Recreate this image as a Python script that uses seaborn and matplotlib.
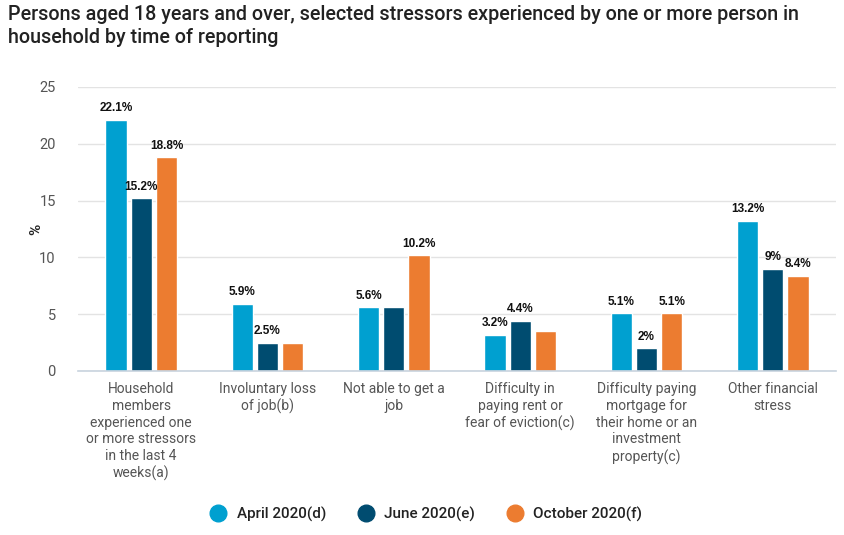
import matplotlib
matplotlib.use("Agg")
import matplotlib.pyplot as plt
from matplotlib.lines import Line2D
import seaborn as sns
import pandas as pd

categories = [
    "Household\nmembers\nexperienced one\nor more stressors\nin the last 4\nweeks(a)",
    "Involuntary loss\nof job(b)",
    "Not able to get a\njob",
    "Difficulty in\npaying rent or\nfear of eviction(c)",
    "Difficulty paying\nmortgage for\ntheir home or an\ninvestment\nproperty(c)",
    "Other financial\nstress",
]
series_names = ["April 2020(d)", "June 2020(e)", "October 2020(f)"]
april = [22.1, 5.9, 5.6, 3.2, 5.1, 13.2]
june = [15.2, 2.5, 5.6, 4.4, 2.0, 9.0]
october = [18.8, 2.5, 10.2, 3.5, 5.1, 8.4]
# which value labels are shown (overlapping ones are hidden in the reference)
show_april = [True, True, True, True, True, True]
show_june = [True, True, False, True, True, True]
show_october = [True, False, True, False, True, True]
colors = ["#00A0D0", "#004C70", "#EC7C30"]
yticks = [0, 5, 10, 15, 20, 25]

rows = []
for name, vals in zip(series_names, [april, june, october]):
    for c, v in zip(categories, vals):
        rows.append({"category": c, "series": name, "value": v})
df = pd.DataFrame(rows)

sns.set_theme(style="white")
plt.rcParams["font.family"] = ["Roboto", "DejaVu Sans"]

fig = plt.figure(figsize=(8.45, 5.35), dpi=100)
ax = fig.add_axes([78 / 845, 1 - 371 / 535, 758 / 845, 284 / 535])

sns.barplot(data=df, x="category", y="value", hue="series", order=categories,
            hue_order=series_names, palette=colors, width=0.6, gap=0.16,
            saturation=1, legend=False, ax=ax, errorbar=None)

ax.set_xlim(-0.5, len(categories) - 0.5)
ax.set_ylim(0, 25)
ax.set_yticks(yticks)
ax.set_yticklabels([str(t) for t in yticks], fontsize=10.5, color="#555555")
ax.tick_params(axis="y", length=0, pad=16)
ax.tick_params(axis="x", length=0, pad=8)
for lbl in ax.get_xticklabels():
    lbl.set_fontsize(10)
    lbl.set_color("#555555")
    lbl.set_linespacing(1.25)
    lbl.set_verticalalignment("top")
ax.set_xlabel("")
ax.set_ylabel("%", fontsize=11, fontweight="bold", color="#222222")
ax.yaxis.set_label_coords(-0.046, 0.5)

ax.grid(axis="y", color="#e3e3e3", linewidth=1)
ax.set_axisbelow(True)
for s in ["top", "right", "left"]:
    ax.spines[s].set_visible(False)
ax.spines["bottom"].set_color("#c8d3de")
ax.spines["bottom"].set_linewidth(1.2)

shows = [show_april, show_june, show_october]
for cont, vals, show in zip(ax.containers, [april, june, october], shows):
    labels = [f"{v:g}%" if s else "" for v, s in zip(vals, show)]
    ax.bar_label(cont, labels=labels, padding=4, fontsize=8.5, fontweight="bold",
                 color="#111111", family=["Liberation Sans", "DejaVu Sans"])

fig.text(8 / 845, 1 - 5 / 535,
         "Persons aged 18 years and over, selected stressors experienced by one or more person in\nhousehold by time of reporting",
         ha="left", va="top", fontsize=14.2, fontweight="medium", color="#222222",
         linespacing=1.25)

handles = [Line2D([0], [0], marker="o", linestyle="", markersize=12,
                  markerfacecolor=c, markeredgecolor=c) for c in colors]
fig.legend(handles, series_names, loc="center", bbox_to_anchor=(0.5, 1 - 514 / 535),
           ncol=3, frameon=False, handletextpad=0.2, columnspacing=1.6,
           prop={"size": 11, "weight": "medium"}, labelcolor="#222222")

fig.savefig("out.png", dpi=100)
